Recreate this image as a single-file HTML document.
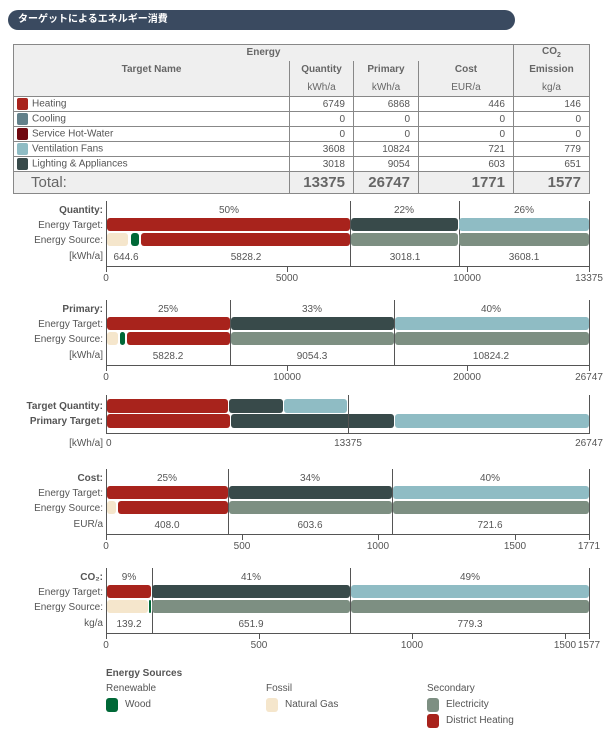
<!DOCTYPE html>
<html><head><meta charset="utf-8"><style>
*{margin:0;padding:0;box-sizing:border-box}
body{width:603px;height:740px;background:#fff;font-family:"Liberation Sans","Noto Sans CJK JP",sans-serif;color:#555;position:relative;overflow:hidden;font-size:10px}
.a{position:absolute;white-space:nowrap}
.title{left:8px;top:10px;width:507px;height:20px;background:#3a4a60;border-radius:10px;color:#fff;font-weight:bold;font-size:10px;line-height:20px;padding-left:10px}
table{position:absolute;left:13px;top:44px;width:577px;border-collapse:collapse;font-size:10px}
td{border:1px solid #888;padding:0 3px;height:15px}
.hd td{background:#efefef;font-weight:bold;text-align:center;color:#666}
.num{text-align:right;padding-right:8px}
.sw{display:inline-block;width:11px;height:12px;border-radius:2px;vertical-align:middle;margin-right:4px}
.tot td{background:#efefef;height:22px;font-size:15px;font-weight:bold;color:#666}
.bar{position:absolute;border-radius:3px}
.vl{position:absolute;width:1px;background:#555}
.hl{position:absolute;height:1px;background:#555}
.lbl{position:absolute;text-align:right;width:100px;left:3px}
.c{position:absolute;transform:translateX(-50%);white-space:nowrap}
</style></head><body>
<div class="a title">ターゲットによるエネルギー消費</div>
<table>
<tr class="hd"><td colspan="4" style="border-bottom:none;height:16px">Energy</td><td style="border-bottom:none">CO<sub style="font-size:7px">2</sub></td></tr>
<tr class="hd"><td style="width:276px;border-top:none;border-bottom:none">Target Name</td><td style="width:64px;border-top:none;border-bottom:none;height:18px">Quantity</td><td style="width:65px;border-top:none;border-bottom:none">Primary</td><td style="width:95px;border-top:none;border-bottom:none">Cost</td><td style="border-top:none;border-bottom:none">Emission</td></tr>
<tr class="hd"><td style="border-top:none"></td><td style="border-top:none;height:18px;font-weight:normal">kWh/a</td><td style="border-top:none;font-weight:normal">kWh/a</td><td style="border-top:none;font-weight:normal">EUR/a</td><td style="border-top:none;font-weight:normal">kg/a</td></tr>
<tr><td><span class="sw" style="background:#a8231c"></span>Heating</td><td class="num">6749</td><td class="num">6868</td><td class="num">446</td><td class="num">146</td></tr>
<tr><td><span class="sw" style="background:#62808a"></span>Cooling</td><td class="num">0</td><td class="num">0</td><td class="num">0</td><td class="num">0</td></tr>
<tr><td><span class="sw" style="background:#700810"></span>Service Hot-Water</td><td class="num">0</td><td class="num">0</td><td class="num">0</td><td class="num">0</td></tr>
<tr><td><span class="sw" style="background:#8fbcc4"></span>Ventilation Fans</td><td class="num">3608</td><td class="num">10824</td><td class="num">721</td><td class="num">779</td></tr>
<tr><td><span class="sw" style="background:#384a4a"></span>Lighting &amp; Appliances</td><td class="num">3018</td><td class="num">9054</td><td class="num">603</td><td class="num">651</td></tr>
<tr class="tot"><td style="font-weight:normal;padding-left:17px">Total:</td><td class="num">13375</td><td class="num">26747</td><td class="num">1771</td><td class="num">1577</td></tr>
</table>
<div id="ch"></div>
<script>
var R='#a8231c',D='#384a4a',B='#8fbcc4',E='#7d8f82',G='#f5e6cc',W='#006837';
var h='';
function bar(x1,x2,y,hh,c){h+='<div class="bar" style="left:'+x1+'px;width:'+(x2-x1-1)+'px;top:'+y+'px;height:'+hh+'px;background:'+c+'"></div>';}
function t(x,y,s,cls,st){h+='<div class="'+(cls||'c')+'" style="left:'+x+'px;top:'+y+'px;'+(st||'')+'">'+s+'</div>';}
function vl(x,y1,y2){h+='<div class="vl" style="left:'+x+'px;top:'+y1+'px;height:'+(y2-y1)+'px"></div>';}
function hl(y){h+='<div class="hl" style="left:106px;width:484px;top:'+y+'px"></div>';}
function chart(top,name,seps,pcts,tg,src,vals,unit,ticks,bold){
  // top = y of label row
  vl(106,top-8,top+57);vl(589,top-8,top+57);
  seps.forEach(function(s){vl(s,top-8,top+57)});
  t(3,top-4,name,'lbl','font-weight:bold');
  t(3,top+11,'Energy Target:','lbl');
  t(3,top+26,'Energy Source:','lbl');
  t(3,top+42,unit,'lbl');
  pcts.forEach(function(p){t(p[0],top-4,p[1])});
  tg.forEach(function(b){bar(b[0],b[1],top+9,13,b[2])});
  src.forEach(function(b){bar(b[0],b[1],top+24,13,b[2])});
  vals.forEach(function(p){t(p[0],top+43,p[1])});
  hl(top+57);
  ticks.forEach(function(p){vl(p[0],top+57,top+63);t(p[0],top+64,p[1])});
}
chart(209,'Quantity:',[350,459],[[229,'50%'],[404,'22%'],[524,'26%']],
 [[107,351,R],[351,459,D],[459,590,B]],
 [[107,129,G],[131,140,W],[141,351,R],[351,459,E],[459,590,E]],
 [[246,'5828.2'],[405,'3018.1'],[524,'3608.1']],'[kWh/a]',
 [[106,'0'],[287,'5000'],[467,'10000'],[589,'13375']]);
t(126,252,'644.6');
chart(308,'Primary:',[230,394],[[168,'25%'],[312,'33%'],[491,'40%']],
 [[107,231,R],[231,395,D],[395,590,B]],
 [[107,119,G],[120,126,W],[127,231,R],[231,395,E],[395,590,E]],
 [[168,'5828.2'],[312,'9054.3'],[491,'10824.2']],'[kWh/a]',
 [[106,'0'],[287,'10000'],[467,'20000'],[589,'26747']]);
// Target vs primary
t(3,401,'Target Quantity:','lbl','font-weight:bold');
t(3,416,'Primary Target:','lbl','font-weight:bold');
bar(107,229,399,14,R);bar(229,284,399,14,D);bar(284,348,399,14,B);
bar(107,231,414,14,R);bar(231,395,414,14,D);bar(395,590,414,14,B);
vl(106,395,434);vl(589,395,434);vl(348,395,434);
hl(433);
t(3,438,'[kWh/a]','lbl');t(106,438,'0','a');t(348,438,'13375');t(589,438,'26747');
chart(477,'Cost:',[228,392],[[167,'25%'],[310,'34%'],[490,'40%']],
 [[107,229,R],[229,393,D],[393,590,B]],
 [[107,117,G],[118,229,R],[229,393,E],[393,590,E]],
 [[167,'408.0'],[310,'603.6'],[490,'721.6']],'EUR/a',
 [[106,'0'],[242,'500'],[378,'1000'],[515,'1500'],[589,'1771']]);
chart(576,'CO₂:',[152,350],[[129,'9%'],[251,'41%'],[470,'49%']],
 [[107,152,R],[152,351,D],[351,590,B]],
 [[107,149,G],[149,152,W],[152,351,E],[351,590,E]],
 [[129,'139.2'],[251,'651.9'],[470,'779.3']],'kg/a',
 [[106,'0'],[259,'500'],[412,'1000'],[565,'1500'],[589,'1577']]);
// legend
t(106,668,'Energy Sources','a','font-weight:bold');
t(106,683,'Renewable','a');t(266,683,'Fossil','a');t(427,683,'Secondary','a');
function sw(x,y,c,s){h+='<div class="bar" style="left:'+x+'px;top:'+y+'px;width:12px;height:14px;background:'+c+'"></div>';t(x+19,y+1,s,'a');}
sw(106,698,W,'Wood');sw(266,698,G,'Natural Gas');sw(427,698,E,'Electricity');sw(427,714,R,'District Heating');
document.getElementById('ch').innerHTML=h;
</script>
</body></html>
